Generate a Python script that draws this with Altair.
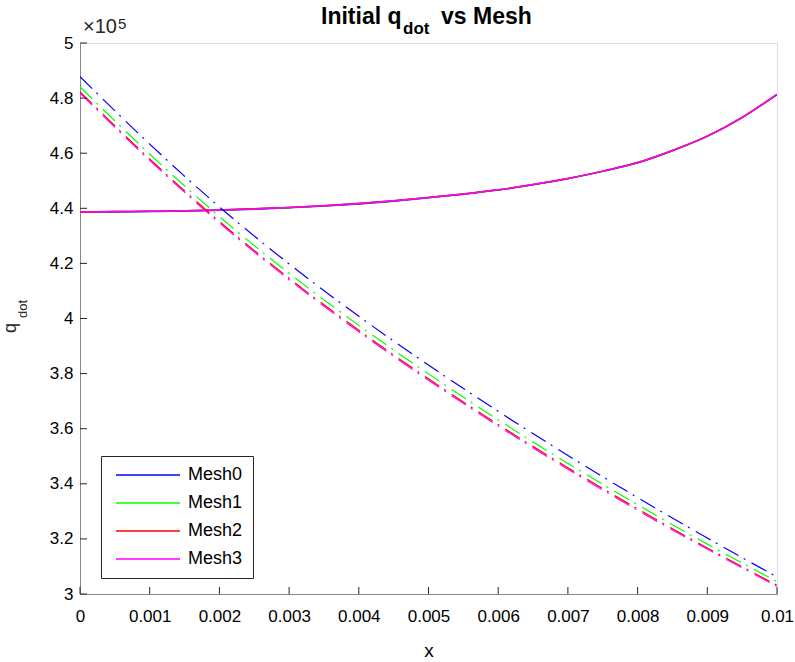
import altair as alt
import pandas as pd

# ---- data (q_dot in units of 1e5) ----
meshes = ["Mesh0", "Mesh1", "Mesh2", "Mesh3"]
colors = ["#0000ff", "#00ff00", "#ff0000", "#ff00ff"]

x_curve = [0.0, 0.0005, 0.001, 0.0015, 0.002, 0.0025, 0.003, 0.0035, 0.004, 0.0045,
           0.005, 0.0055, 0.006, 0.0065, 0.007, 0.0075, 0.008, 0.0085, 0.009, 0.0095, 0.01]
curve_mesh0 = [4.386, 4.387, 4.388, 4.390, 4.393, 4.397, 4.402, 4.408, 4.416, 4.426,
               4.438, 4.451, 4.466, 4.485, 4.507, 4.534, 4.565, 4.609, 4.661, 4.729, 4.813]
curve_mesh1 = [4.387, 4.388, 4.389, 4.391, 4.394, 4.398, 4.403, 4.409, 4.417, 4.427,
               4.439, 4.452, 4.467, 4.486, 4.508, 4.535, 4.566, 4.610, 4.662, 4.730, 4.814]
curve_mesh2 = [4.387, 4.388, 4.389, 4.391, 4.394, 4.398, 4.403, 4.409, 4.417, 4.427,
               4.439, 4.452, 4.467, 4.486, 4.508, 4.535, 4.566, 4.610, 4.662, 4.730, 4.814]
curve_mesh3 = [4.387, 4.388, 4.389, 4.391, 4.394, 4.398, 4.403, 4.409, 4.417, 4.427,
               4.439, 4.452, 4.467, 4.486, 4.508, 4.535, 4.566, 4.610, 4.662, 4.730, 4.814]

x_line = [0.0, 0.001, 0.002, 0.003, 0.004, 0.005, 0.006, 0.007, 0.008, 0.009, 0.01]
line_mesh0 = [4.878, 4.633, 4.405, 4.198, 4.008, 3.831, 3.663, 3.503, 3.350, 3.203, 3.062]
line_mesh1 = [4.841, 4.597, 4.370, 4.164, 3.975, 3.799, 3.632, 3.474, 3.324, 3.181, 3.045]
line_mesh2 = [4.823, 4.579, 4.352, 4.146, 3.957, 3.781, 3.615, 3.458, 3.309, 3.167, 3.032]
line_mesh3 = [4.818, 4.574, 4.347, 4.141, 3.952, 3.776, 3.610, 3.453, 3.304, 3.163, 3.028]

x_ticks = [0.0, 0.001, 0.002, 0.003, 0.004, 0.005, 0.006, 0.007, 0.008, 0.009, 0.01]
y_ticks = [3.0, 3.2, 3.4, 3.6, 3.8, 4.0, 4.2, 4.4, 4.6, 4.8, 5.0]

curves = [curve_mesh0, curve_mesh1, curve_mesh2, curve_mesh3]
lines = [line_mesh0, line_mesh1, line_mesh2, line_mesh3]

rows_c, rows_l = [], []
for i, m in enumerate(meshes):
    for x, q in zip(x_curve, curves[i]):
        rows_c.append({"x": x, "q": q, "mesh": m, "ord": i})
    for x, q in zip(x_line, lines[i]):
        rows_l.append({"x": x, "q": q, "mesh": m, "ord": i})
df_c = pd.DataFrame(rows_c)
df_l = pd.DataFrame(rows_l)
df_xt = pd.DataFrame({"v": x_ticks})
df_yt = pd.DataFrame({"v": y_ticks})

W, H = 697, 551
FONT = "Liberation Sans"
GRAY = "#262626"

xs = alt.Scale(domain=[0, 0.01], nice=False, zero=False)
ys = alt.Scale(domain=[3, 5], nice=False, zero=False)
cs = alt.Scale(domain=meshes, range=colors)

x_axis = alt.Axis(values=x_ticks, format="~g", ticks=False, grid=False, title="x",
                  labelFontSize=17, titleFontSize=19, titleFontWeight="normal",
                  labelPadding=14, titlePadding=17, labelFlush=False)
y_axis = alt.Axis(values=y_ticks, format="~g", ticks=False, grid=False, title=None,
                  labelFontSize=17, labelPadding=7)

solid = alt.Chart(df_c).mark_line(strokeWidth=1.5, interpolate="monotone", clip=True).encode(
    x=alt.X("x:Q", scale=xs, axis=x_axis),
    y=alt.Y("q:Q", scale=ys, axis=y_axis),
    color=alt.Color("mesh:N", scale=cs, legend=alt.Legend(
        title=None, orient="none", legendX=21, legendY=413,
        symbolType="M-6.4,0H6.4", symbolSize=100, symbolStrokeWidth=1.5,
        symbolDash=[1, 0], symbolOffset=28, labelOffset=31, labelFontSize=18,
        labelFont=FONT, labelColor="#000000", rowPadding=10, padding=10,
        strokeColor=GRAY, fillColor="#ffffff",
    )),
    order="ord:Q",
)

dash = alt.Chart(df_l).mark_line(strokeWidth=1.2, strokeDash=[17, 6, 2, 7],
                                 interpolate="monotone", clip=True).encode(
    x=alt.X("x:Q", scale=xs),
    y=alt.Y("q:Q", scale=ys),
    color=alt.Color("mesh:N", scale=cs, legend=None),
    order="ord:Q",
)

yt = alt.Chart(df_yt).mark_rule(color=GRAY, strokeWidth=1).encode(
    y=alt.Y("v:Q", scale=ys), x=alt.value(0), x2=alt.value(7))
xt = alt.Chart(df_xt).mark_rule(color=GRAY, strokeWidth=1).encode(
    x=alt.X("v:Q", scale=xs), y=alt.value(H), y2=alt.value(H - 7))

def txt(s, x, y, size, weight="normal", angle=0, color=GRAY):
    return alt.Chart(pd.DataFrame({"t": [s]})).mark_text(
        text=s, align="left", baseline="alphabetic", fontSize=size, fontWeight=weight,
        font=FONT, color=color, angle=angle
    ).encode(x=alt.value(x), y=alt.value(y))

texts = [
    txt("Initial q", 241, -19, 23, "bold", color="#000000"),
    txt("dot", 323, -9, 17, "bold", color="#000000"),
    txt("vs Mesh", 361, -19, 23, "bold", color="#000000"),
    txt("×10", 3, -10, 20),
    txt("5", 38, -14, 15),
    txt("q", -64, 290, 18, angle=270),
    txt("dot", -53, 275, 13, angle=270),
]

chart = alt.layer(solid, dash, yt, xt, *texts).properties(
    width=W, height=H,
    autosize=alt.AutoSizeParams(type="none"),
    padding={"left": 80, "top": 43, "right": 18, "bottom": 68},
).configure_view(stroke=None).configure_axis(
    domainColor=GRAY, domainWidth=1, labelColor=GRAY, titleColor=GRAY,
    labelFont=FONT, titleFont=FONT,
).configure(background="#ffffff")

chart.save("out.html", embed_options={"renderer": "svg", "actions": False})
